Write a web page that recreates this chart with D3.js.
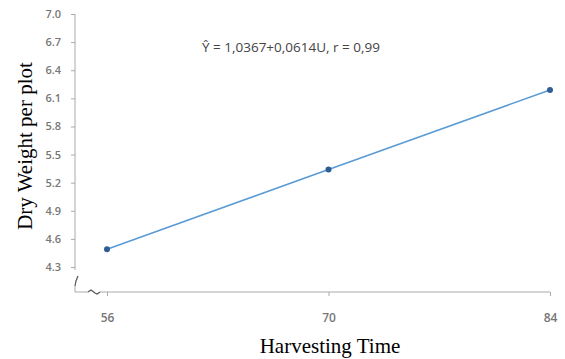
<!DOCTYPE html>
<html>
<head>
<meta charset="utf-8">
<script src="https://cdn.jsdelivr.net/npm/d3@7"></script>
<style>
  body { margin: 0; background: #fff; }
  svg { display: block; }
</style>
</head>
<body>
<div id="chart"></div>
<script>
const harvestDays = [56, 70, 84];
const dryWeight = [4.49, 5.34, 6.19];
const yTicks = [4.3, 4.6, 4.9, 5.2, 5.5, 5.8, 6.1, 6.4, 6.7, 7.0];
const equationLabel = 'Ŷ = 1,0367+0,0614U, r = 0,99';

const width = 565;
const height = 359;

const svg = d3.select('#chart')
  .append('svg')
  .attr('width', width)
  .attr('height', height);

const x = d3.scaleLinear().domain([56, 84]).range([107, 550]);
const y = d3.scaleLinear().domain([4.3, 7.0]).range([267, 14]);
const axisY = 292;
const axisX = 75;

// y axis
const yAxis = svg.append('g')
  .attr('transform', `translate(${axisX},0)`)
  .call(d3.axisLeft(y).tickValues(yTicks).tickFormat(d3.format('.1f')).tickSize(4).tickPadding(10));
yAxis.select('.domain').remove();
yAxis.selectAll('line').attr('stroke', '#aaa');
yAxis.selectAll('text')
  .attr('fill', '#777')
  .style('font-family', 'Open Sans, sans-serif')
  .style('font-weight', '600')
  .style('font-size', '11px');

svg.append('line')
  .attr('x1', axisX).attr('x2', axisX)
  .attr('y1', y(7.0)).attr('y2', 270)
  .attr('stroke', '#aaa');
svg.append('line')
  .attr('x1', axisX).attr('x2', axisX)
  .attr('y1', 286).attr('y2', axisY)
  .attr('stroke', '#aaa');

// x axis
const xAxis = svg.append('g')
  .attr('transform', `translate(0,${axisY})`)
  .call(d3.axisBottom(x).tickValues(harvestDays).tickSize(4).tickPadding(17));
xAxis.select('.domain').remove();
xAxis.selectAll('line').attr('stroke', '#aaa');
xAxis.selectAll('text')
  .attr('fill', '#777')
  .style('font-family', 'Open Sans, sans-serif')
  .style('font-weight', '600')
  .style('font-size', '12px');

svg.append('line')
  .attr('x1', axisX).attr('x2', 88)
  .attr('y1', axisY).attr('y2', axisY)
  .attr('stroke', '#aaa');
svg.append('line')
  .attr('x1', 100).attr('x2', x(84))
  .attr('y1', axisY).attr('y2', axisY)
  .attr('stroke', '#aaa');

// axis break marks
svg.append('path')
  .attr('d', `M${axisX},${axisY - 6} L${axisX + 1},${axisY - 11} L${axisX + 3},${axisY - 16}`)
  .attr('fill', 'none')
  .attr('stroke', '#555')
  .attr('stroke-width', 1.2);
svg.append('path')
  .attr('d', `M88,${axisY} L91,${axisY - 2} L95,${axisY + 1} L97,${axisY + 2} L100,${axisY}`)
  .attr('fill', 'none')
  .attr('stroke', '#555')
  .attr('stroke-width', 1.2);

// series
const pts = harvestDays.map((d, i) => [d, dryWeight[i]]);
svg.append('path')
  .datum(pts)
  .attr('fill', 'none')
  .attr('stroke', '#5a9bd5')
  .attr('stroke-width', 1.6)
  .attr('d', d3.line().x(d => x(d[0])).y(d => y(d[1])));

svg.selectAll('circle.pt')
  .data(pts)
  .join('circle')
  .attr('class', 'pt')
  .attr('cx', d => x(d[0]))
  .attr('cy', d => y(d[1]))
  .attr('r', 3)
  .attr('fill', '#2f5d96');

// equation
svg.append('text')
  .attr('x', 202)
  .attr('y', 52)
  .attr('fill', '#444')
  .style('font-family', 'Open Sans, sans-serif')
  .style('font-size', '13.5px')
  .text(equationLabel);

// titles
svg.append('text')
  .attr('x', 330)
  .attr('y', 353)
  .attr('text-anchor', 'middle')
  .style('font-family', 'Liberation Serif, serif')
  .style('font-size', '21px')
  .text('Harvesting Time');

svg.append('text')
  .attr('transform', 'translate(32,146) rotate(-90)')
  .attr('text-anchor', 'middle')
  .style('font-family', 'Liberation Serif, serif')
  .style('font-size', '21px')
  .text('Dry Weight per plot');
</script>
</body>
</html>
